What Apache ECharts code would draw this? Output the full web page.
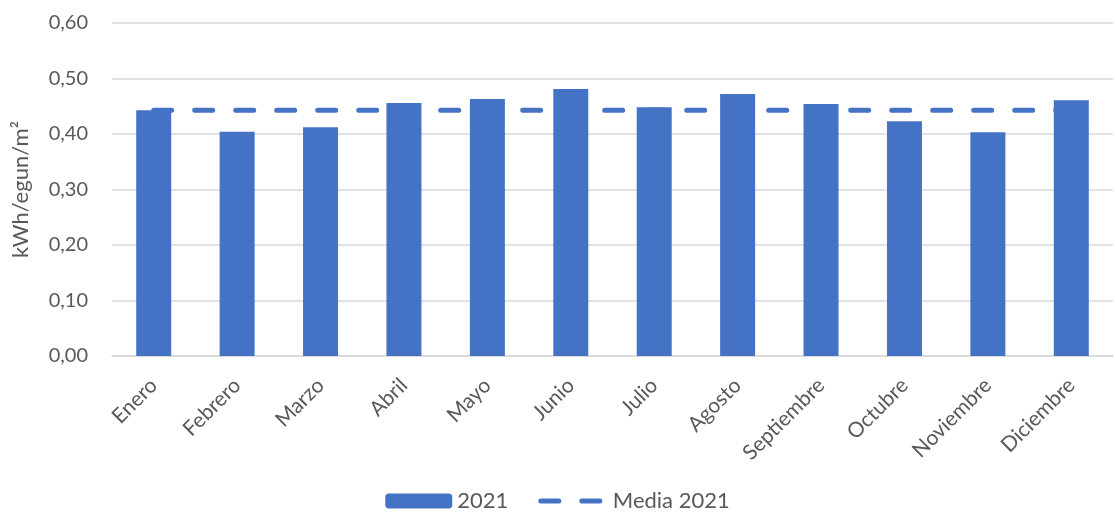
<!DOCTYPE html>
<html>
<head>
<meta charset="utf-8">
<script src="https://cdn.jsdelivr.net/npm/echarts@6/dist/echarts.min.js"></script>
<style>
html,body{margin:0;padding:0;background:#fff;}
#chart{width:1115px;height:519px;}
</style>
</head>
<body>
<div id="chart"></div>
<script>
const categories = ['Enero','Febrero','Marzo','Abril','Mayo','Junio','Julio','Agosto','Septiembre','Octubre','Noviembre','Diciembre'];
const values2021 = [0.443,0.404,0.412,0.456,0.463,0.481,0.448,0.472,0.454,0.423,0.403,0.461];
const media2021 = [0.443,0.443,0.443,0.443,0.443,0.443,0.443,0.443,0.443,0.443,0.443,0.443];
const yTicks = {min:0, max:0.6, interval:0.1};

const FONT = 'Lato, "Open Sans", sans-serif';
const TXT = '#595959';
const BLUE = '#4472c4';

const chart = echarts.init(document.getElementById('chart'), null, {renderer:'canvas'});
chart.setOption({
  animation:false,
  textStyle:{fontFamily:FONT},
  grid:{left:112, right:2, top:23, bottom:163, containLabel:false},
  legend:{
    bottom:2, left:'center', itemGap:30, itemTextGap:8,
    itemWidth:67, itemHeight:15,
    textStyle:{fontSize:22, color:TXT, fontFamily:FONT},
    data:[
      '2021',
      {name:'Media 2021',
       itemStyle:{color:'rgba(0,0,0,0)', borderWidth:0},
       lineStyle:{color:BLUE, width:5, type:[18,23], cap:'round'}}
    ]
  },
  xAxis:{
    type:'category', data:categories,
    axisLine:{lineStyle:{color:'#d9d9d9', width:1.5}},
    axisTick:{show:false},
    axisLabel:{rotate:45, fontSize:21, color:TXT, fontFamily:FONT, margin:26, interval:0}
  },
  yAxis:{
    type:'value', min:yTicks.min, max:yTicks.max, interval:yTicks.interval,
    name:'kWh/egun/m²', nameLocation:'middle', nameGap:80, nameRotate:90,
    nameTextStyle:{fontSize:22, color:TXT, fontFamily:FONT},
    axisLine:{show:false}, axisTick:{show:false},
    axisLabel:{fontSize:20, color:TXT, fontFamily:FONT, margin:24,
      formatter:v=>v.toFixed(2).replace('.',',')},
    splitLine:{lineStyle:{color:'#d9d9d9', width:1.5}}
  },
  series:[
    {name:'2021', type:'bar', data:values2021, barWidth:35, z:2,
      itemStyle:{color:BLUE}},
    {name:'Media 2021', type:'line', data:media2021, symbol:'none', z:1,
      itemStyle:{color:BLUE},
      lineStyle:{color:BLUE, width:5, type:[18,23], cap:'round'}}
  ]
});
</script>
</body>
</html>
